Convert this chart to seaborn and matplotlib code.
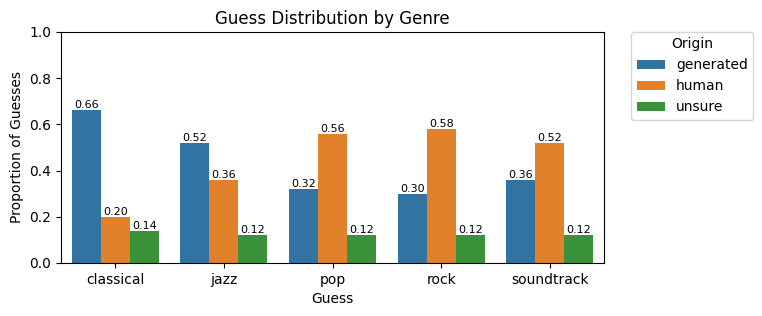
import pandas as pd
import matplotlib.pyplot as plt
import seaborn as sns

genres = ["classical", "jazz", "pop", "rock", "soundtrack"]
origins = ["generated", "human", "unsure"]
generated = [0.66, 0.52, 0.32, 0.30, 0.36]
human = [0.20, 0.36, 0.56, 0.58, 0.52]
unsure = [0.14, 0.12, 0.12, 0.12, 0.12]

df = pd.DataFrame({
    "Guess": genres * 3,
    "Origin": ["generated"] * 5 + ["human"] * 5 + ["unsure"] * 5,
    "Proportion": generated + human + unsure,
})

fig = plt.figure(figsize=(7.62, 3.16), dpi=100)
ax = fig.add_axes([0.080, 0.168, 0.713, 0.731])

sns.barplot(data=df, x="Guess", y="Proportion", hue="Origin",
            hue_order=origins, order=genres, ax=ax)

for c in ax.containers:
    ax.bar_label(c, fmt="%.2f", fontsize=8)

ax.set_ylim(0, 1)
ax.set_title("Guess Distribution by Genre")
ax.set_xlabel("Guess")
ax.set_ylabel("Proportion of Guesses")
ax.legend(title="Origin", bbox_to_anchor=(1.05, 1), loc="upper left", borderaxespad=0)

fig.savefig("out.png", dpi=100)
